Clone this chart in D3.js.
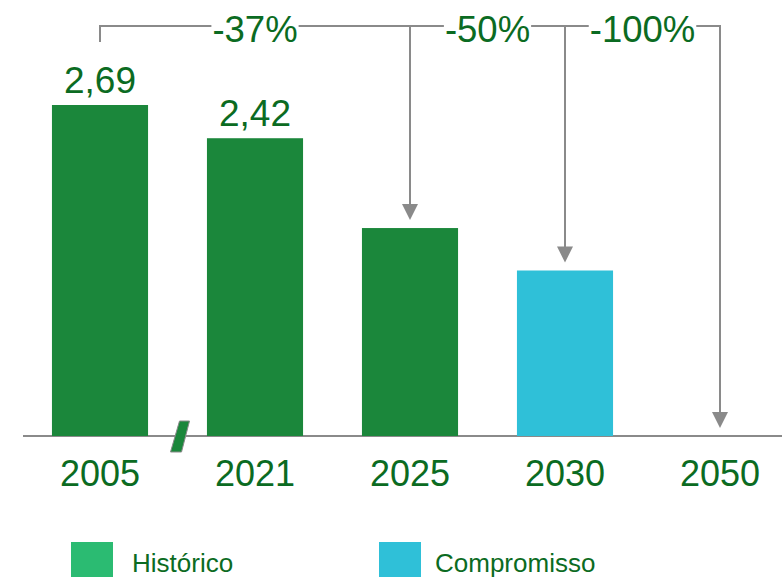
<!DOCTYPE html>
<html>
<head>
<meta charset="utf-8">
<script src="https://cdn.jsdelivr.net/npm/d3@7"></script>
<style>
  html, body { margin: 0; padding: 0; background: #fff; }
  svg { display: block; }
  text { font-family: "Liberation Sans", Arial, sans-serif; }
</style>
</head>
<body>
<svg id="chart" width="782" height="577"></svg>
<script>
// ---- data ----
const categories = ["2005", "2021", "2025", "2030", "2050"];
const values = [2.69, 2.42, 1.69, 1.345, 0];
const seriesType = ["Histórico", "Histórico", "Histórico", "Compromisso", null];
const valueLabels = ["2,69", "2,42", "", "", ""];
const reductions = [
  { label: "-37%", from: "2005", to: "2025" },
  { label: "-50%", from: "2025", to: "2030" },
  { label: "-100%", from: "2030", to: "2050" }
];
const legendItems = ["Histórico", "Compromisso"];

// ---- styles ----
const barColor = { "Histórico": "#1b873b", "Compromisso": "#2fc0d8" };
const legendColor = { "Histórico": "#2bbb72", "Compromisso": "#2fc0d8" };
const textColor = "#0b6b22";
const grey = "#8a8a8a";

const svg = d3.select("#chart");
const W = 782, H = 577;

const x = d3.scaleBand().domain(categories).range([22.5, 797.5]).paddingInner(0.38).paddingOuter(0.19);
const y = d3.scaleLinear().domain([0, 2.69]).range([436, 105]);

// baseline
svg.append("line")
  .attr("x1", 23).attr("x2", W).attr("y1", y(0)).attr("y2", y(0))
  .attr("stroke", grey).attr("stroke-width", 2);

// bars
svg.selectAll("rect.bar").data(categories.filter((c, i) => values[i] > 0))
  .join("rect").attr("class", "bar")
  .attr("x", c => x(c))
  .attr("width", x.bandwidth())
  .attr("y", c => y(values[categories.indexOf(c)]))
  .attr("height", c => y(0) - y(values[categories.indexOf(c)]))
  .attr("fill", c => barColor[seriesType[categories.indexOf(c)]]);

// axis break mark
const bx = (x("2005") + x.bandwidth() + x("2021")) / 2;
svg.append("polygon")
  .attr("points", [[bx + 2, 421], [bx + 12, 421], [bx + 4, 452], [bx - 7, 452]].map(p => p.join(",")).join(" "))
  .attr("fill", "#1b873b").attr("stroke", grey).attr("stroke-width", 1);

// value labels
svg.selectAll("text.val").data(categories.filter((c, i) => valueLabels[i]))
  .join("text").attr("class", "val")
  .attr("x", c => x(c) + x.bandwidth() / 2)
  .attr("y", c => y(values[categories.indexOf(c)]) - 12.5)
  .attr("text-anchor", "middle")
  .attr("font-size", 37)
  .attr("fill", textColor)
  .text(c => valueLabels[categories.indexOf(c)]);

// category labels
svg.selectAll("text.cat").data(categories)
  .join("text").attr("class", "cat")
  .attr("x", c => x(c) + x.bandwidth() / 2)
  .attr("y", 486)
  .attr("text-anchor", "middle")
  .attr("font-size", 36)
  .attr("fill", textColor)
  .text(c => c);

// reduction brackets
const cx = c => x(c) + x.bandwidth() / 2;
const lineY = 26;
const br = svg.append("g");
br.append("line")
  .attr("x1", cx("2005")).attr("x2", cx("2050"))
  .attr("y1", lineY).attr("y2", lineY)
  .attr("stroke", grey).attr("stroke-width", 2);
br.append("line")
  .attr("x1", cx("2005")).attr("x2", cx("2005"))
  .attr("y1", lineY - 1).attr("y2", 42)
  .attr("stroke", grey).attr("stroke-width", 2);

reductions.forEach(r => {
  const xt = cx(r.to);
  const tipY = y(values[categories.indexOf(r.to)]) - 8;
  br.append("line")
    .attr("x1", xt).attr("x2", xt)
    .attr("y1", lineY - 1).attr("y2", tipY - 12)
    .attr("stroke", grey).attr("stroke-width", 2);
  br.append("polygon")
    .attr("points", [[xt - 8, tipY - 16], [xt + 8, tipY - 16], [xt, tipY]].map(p => p.join(",")).join(" "))
    .attr("fill", grey);
  const mx = (cx(r.from) + cx(r.to)) / 2;
  const bg = br.append("rect").attr("fill", "#fff");
  const t = br.append("text")
    .attr("x", mx).attr("y", 42)
    .attr("text-anchor", "middle")
    .attr("font-size", 36.5)
    .attr("fill", textColor)
    .text(r.label);
  const bb = t.node().getBBox();
  bg.attr("x", bb.x - 1).attr("y", lineY - 4).attr("width", bb.width + 2).attr("height", 8);
});

// legend
const legendX = [71, 379];
const legendTextDx = [61, 56];
const lg = svg.selectAll("g.leg").data(legendItems).join("g").attr("class", "leg")
  .attr("transform", (d, i) => `translate(${legendX[i]},542)`);
lg.append("rect").attr("width", 42).attr("height", 35).attr("fill", d => legendColor[d]);
lg.append("text").attr("x", (d, i) => legendTextDx[i]).attr("y", 30)
  .attr("font-size", 26).attr("fill", textColor)
  .text(d => d);
</script>
</body>
</html>
